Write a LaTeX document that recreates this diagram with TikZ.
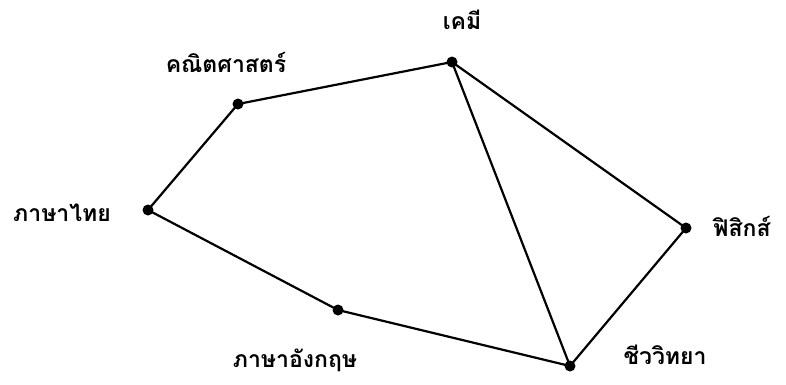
\documentclass[tikz,border=0pt]{standalone}
\usepackage{fontspec}
\newfontfamily\thaifont[Script=Thai]{Loma}
\begin{document}
\begin{tikzpicture}[x=1pt,y=-1pt,
  pt/.style={circle,fill=black,inner sep=0pt,minimum size=11pt},
  lbl/.style={font=\thaifont\bfseries\fontsize{23}{26}\selectfont,inner sep=0pt},
  edge/.style={line width=2.2pt}]
\useasboundingbox (0,0) rectangle (786,384);
\node[pt] (chem) at (452,62) {};
\node[pt] (math) at (238,104) {};
\node[pt] (thai) at (148,210) {};
\node[pt] (eng) at (338,310) {};
\node[pt] (bio) at (570,366) {};
\node[pt] (phy) at (686,228) {};
\node[lbl] (lchem) at (462,20) {เคมี};
\node[lbl] (lmath) at (226,62) {คณิตศาสตร์};
\node[lbl] (lthai) at (62,213) {ภาษาไทย};
\node[lbl] (lphy) at (742,226) {ฟิสิกส์};
\node[lbl] (leng) at (295,360) {ภาษาอังกฤษ};
\node[lbl] (lbio) at (665,355) {ชีววิทยา};
\draw[edge] (math.center) -- (chem.center);
\draw[edge] (math.center) -- (thai.center);
\draw[edge] (thai.center) -- (eng.center);
\draw[edge] (eng.center) -- (bio.center);
\draw[edge] (bio.center) -- (chem.center);
\draw[edge] (chem.center) -- (phy.center);
\draw[edge] (phy.center) -- (bio.center);
\end{tikzpicture}
\end{document}
